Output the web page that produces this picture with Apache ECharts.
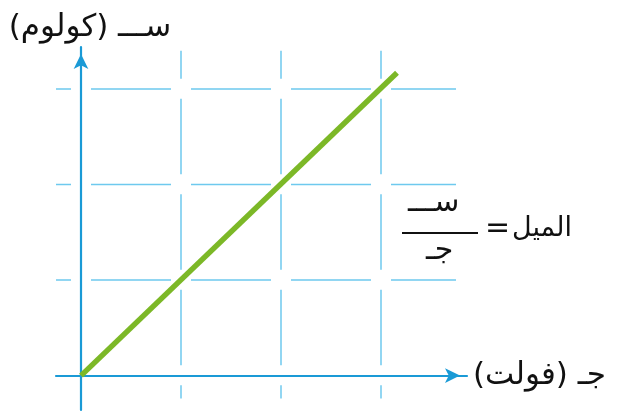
<!DOCTYPE html>
<html>
<head>
<meta charset="utf-8">
<script src="https://cdn.jsdelivr.net/npm/echarts@6/dist/echarts.min.js"></script>
<style>
  html, body { margin: 0; padding: 0; background: #fff; }
  #main { width: 619px; height: 415px; }
</style>
</head>
<body>
<div id="main"></div>
<script>
// الخط البياني: الشحنة مقابل الجهد
var lineX = [0, 3.16];
var lineY = [0, 3.17];

// خطوط الشبكة
var gridX = [1, 2, 3];
var gridY = [1, 2, 3];
var hExtent = [-0.25, 3.75];
var vExtent = [3.40, -0.24];

var RLM = '\u200F';
var xName = 'جـ (فولت)';
var yName = 'ســـ (كولوم)';

var blue = '#1a9ad6';
var gridBlue = '#6ec9ee';
var green = '#7cb827';
var font = '"DejaVu Sans", sans-serif';

var myChart = echarts.init(document.getElementById('main'));

var series = [];
gridY.forEach(function (v) {
    series.push({
        type: 'line', silent: true, symbol: 'none', z: 1,
        data: [[hExtent[0], v], [hExtent[1], v]],
        lineStyle: { color: gridBlue, width: 1.5, type: [80, 20], dashOffset: 65 }
    });
});
gridX.forEach(function (v) {
    series.push({
        type: 'line', silent: true, symbol: 'none', z: 1,
        data: [[v, vExtent[0]], [v, vExtent[1]]],
        lineStyle: { color: gridBlue, width: 1.5, type: [75.5, 20], dashOffset: 47.5 }
    });
});
series.push({
    type: 'line', silent: true, symbol: 'none', z: 5,
    data: lineX.map(function (x, i) { return [x, lineY[i]]; }),
    lineStyle: { color: green, width: 5.5, cap: 'butt' }
});

var option = {
    animation: false,
    grid: { left: 56, right: 152, top: 47, bottom: 5 },
    xAxis: {
        type: 'value', min: -0.25, max: 3.86,
        name: RLM + xName + RLM,
        nameLocation: 'end', nameGap: 6,
        nameTextStyle: { fontFamily: font, fontSize: 31, color: '#111', align: 'left', verticalAlign: 'middle' },
        axisLine: { onZero: true, symbol: ['none', 'arrow'], symbolSize: [11, 15], symbolOffset: [0, -7],
            lineStyle: { color: blue, width: 2.2 } },
        axisTick: { show: false }, axisLabel: { show: false }, splitLine: { show: false }
    },
    yAxis: {
        type: 'value', min: -0.36, max: 3.44,
        name: RLM + yName + RLM,
        nameLocation: 'end', nameGap: 4,
        nameTextStyle: { fontFamily: font, fontSize: 31, color: '#111', align: 'center', verticalAlign: 'bottom', padding: [0, 0, 0, 18] },
        axisLine: { onZero: true, symbol: ['none', 'arrow'], symbolSize: [11, 15], symbolOffset: [0, -7],
            lineStyle: { color: blue, width: 2.2 } },
        axisTick: { show: false }, axisLabel: { show: false }, splitLine: { show: false }
    },
    graphic: [
        { type: 'text', left: 512, top: 215, style: { text: RLM + 'الميل' + RLM, font: '27px ' + font, fill: '#111' } },
        { type: 'text', left: 485, top: 214, style: { text: '=', font: '30px ' + font, fill: '#111' } },
        { type: 'text', left: 408, top: 188, style: { text: RLM + 'ســـ' + RLM, font: '30px ' + font, fill: '#111' } },
        { type: 'line', shape: { x1: 402, y1: 233, x2: 478, y2: 233 }, style: { stroke: '#111', lineWidth: 2 } },
        { type: 'text', left: 426, top: 236, style: { text: RLM + 'جـ' + RLM, font: '30px ' + font, fill: '#111' } }
    ],
    series: series
};

myChart.setOption(option);
</script>
</body>
</html>
